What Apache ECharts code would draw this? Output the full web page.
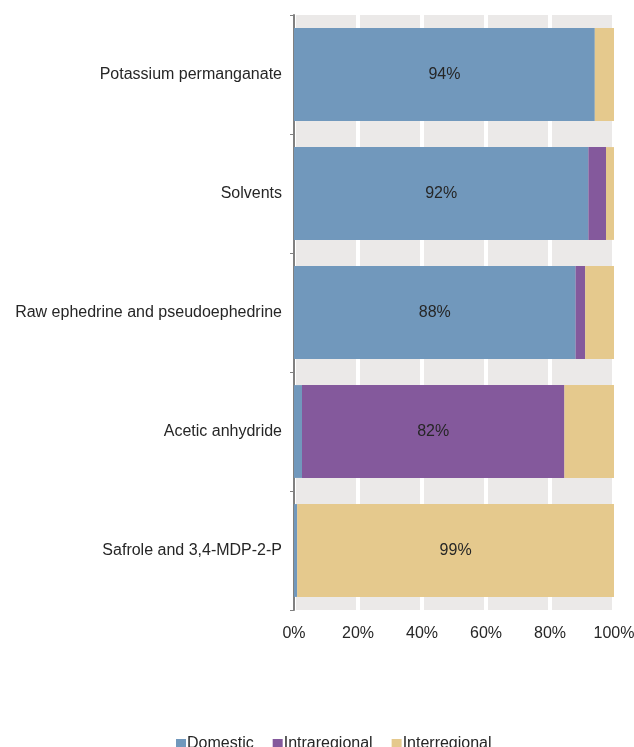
<!DOCTYPE html>
<html>
<head>
<meta charset="utf-8">
<script src="https://cdn.jsdelivr.net/npm/echarts@6/dist/echarts.min.js"></script>
<style>
  html, body { margin: 0; padding: 0; background: #ffffff; }
  #chart { width: 634px; height: 747px; }
</style>
</head>
<body>
<div id="chart"></div>
<script>
// Precursor categories, top to bottom
const categories = [
  'Potassium permanganate',
  'Solvents',
  'Raw ephedrine and pseudoephedrine',
  'Acetic anhydride',
  'Safrole and 3,4-MDP-2-P'
];
// Share of seizures by trafficking type (%)
const domestic      = [94, 92, 88, 2.5, 1];
const intraregional = [0, 5.5, 3, 82, 0];
const interregional = [6, 2.5, 9, 15.5, 99];
// Which series carries the printed label for each category
const labelSeries = ['Domestic', 'Domestic', 'Domestic', 'Intraregional', 'Interregional'];
const xTicks = [0, 20, 40, 60, 80, 100];

const colors = { Domestic: '#7198bc', Intraregional: '#84599c', Interregional: '#e5c98d' };
const fontFamily = '"Liberation Sans", Arial, sans-serif';
const textColor = '#262626';

// y axis category order is reversed so the first category sits on top
const cats = categories.slice().reverse();
function rev(a) { return a.slice().reverse(); }
const labelRev = rev(labelSeries);

function makeSeries(name, values) {
  return {
    name: name,
    type: 'bar',
    stack: 'total',
    barWidth: '78%',
    data: rev(values).map((v, i) => ({
      value: v,
      label: {
        show: labelRev[i] === name,
        position: 'inside',
        formatter: Math.round(v) + '%',
        color: textColor,
        fontSize: 16,
        fontFamily: fontFamily
      }
    })),
    itemStyle: { color: colors[name] }
  };
}

const chart = echarts.init(document.getElementById('chart'), null, { renderer: 'canvas' });
chart.setOption({
  animation: false,
  backgroundColor: '#ffffff',
  grid: {
    left: 294, right: 20, top: 15, bottom: 137,
    outerBoundsMode: 'none',
    containLabel: false,
    show: true, backgroundColor: '#ebe9e8', borderWidth: 0
  },
  legend: {
    top: 731,
    left: 171,
    itemWidth: 10,
    itemHeight: 10,
    itemGap: 19,
    icon: 'rect',
    textStyle: { fontSize: 16, color: textColor, fontFamily: fontFamily, padding: [0, 0, 0, -4] },
    data: ['Domestic', 'Intraregional', 'Interregional']
  },
  xAxis: {
    type: 'value',
    min: 0, max: 100, interval: 20,
    axisLine: { show: false },
    axisTick: { show: false },
    splitLine: { show: true, lineStyle: { color: '#ffffff', width: 4 } },
    axisLabel: {
      formatter: v => xTicks.includes(v) ? v + '%' : '',
      fontSize: 16, color: textColor, fontFamily: fontFamily, margin: 16
    }
  },
  yAxis: {
    type: 'category',
    data: cats,
    axisLine: { show: true, lineStyle: { color: '#808080', width: 2 } },
    axisTick: { show: true, length: 4, lineStyle: { color: '#808080', width: 1 } },
    axisLabel: { fontSize: 16, color: textColor, fontFamily: fontFamily, margin: 12 }
  },
  series: [
    makeSeries('Domestic', domestic),
    makeSeries('Intraregional', intraregional),
    makeSeries('Interregional', interregional)
  ]
});
</script>
</body>
</html>
